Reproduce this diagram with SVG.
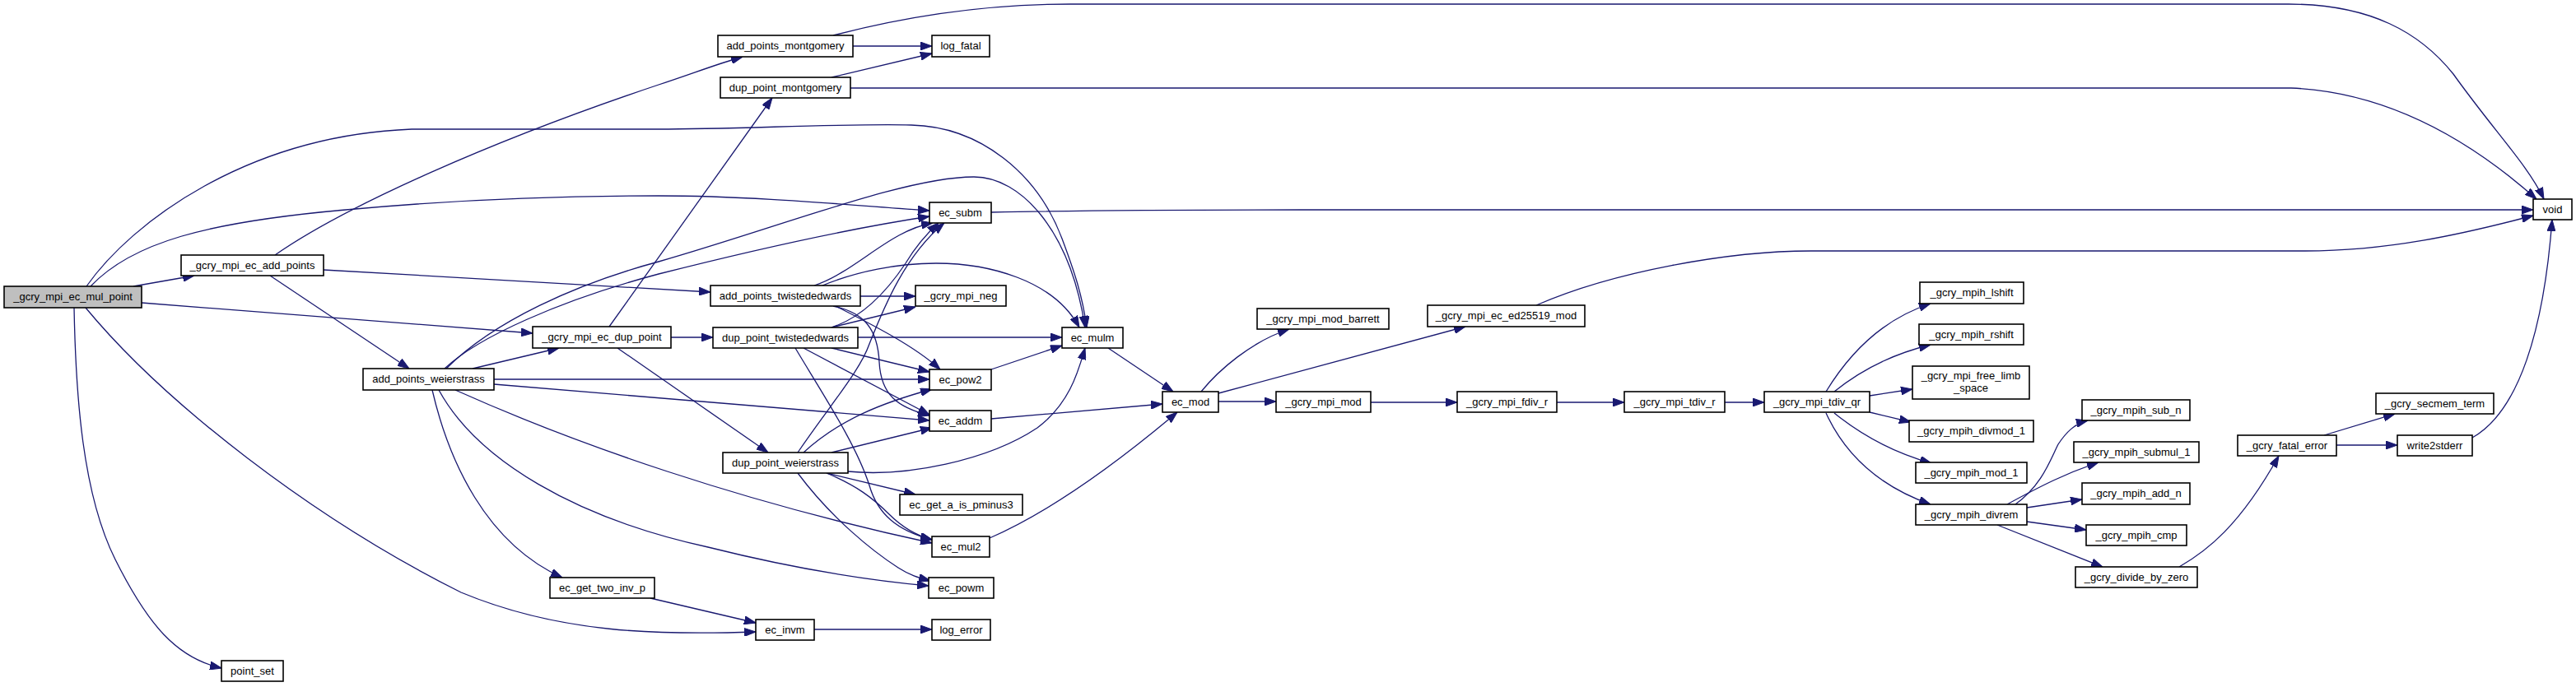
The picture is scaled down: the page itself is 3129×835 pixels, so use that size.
<svg xmlns="http://www.w3.org/2000/svg" width="3129" height="835" viewBox="0 0 3129 835">
<style>
.n rect{fill:#fff;stroke:#000;stroke-width:1.6}
.n text{font-family:"Liberation Sans",Arial,sans-serif;font-size:13px;text-anchor:middle;fill:#000}
#edges path{fill:none;stroke:#191970;stroke-width:1.3;marker-end:url(#a)}
</style>
<defs>
<marker id="a" viewBox="0 0 14 10" refX="14" refY="5" markerWidth="14" markerHeight="10" markerUnits="userSpaceOnUse" orient="auto">
<path d="M0,0 L14,5 L0,10 z" fill="#191970" stroke="#191970"/>
</marker>
</defs>
<rect width="3129" height="835" fill="#fff"/>
<g id="edges">
<path d="M162,348 L236,335"/>
<path d="M172,368 L647,405"/>
<path d="M110,348 C160,295 250,270 420,255 C560,242 700,238 800,238 C920,238 1040,250 1129,256"/>
<path d="M105,348 C160,270 300,165 500,157 L800,157 C900,157 1020,150 1107,152 C1190,154 1260,210 1290,290 C1305,330 1315,360 1320,398"/>
<path d="M90,374 C92,480 100,600 140,680 C180,760 215,800 269,812"/>
<path d="M104,374 C200,490 380,630 560,720 C680,770 800,772 918,768"/>
<path d="M334,310 C420,250 600,170 800,103 C840,90 870,78 902,69"/>
<path d="M393,328 C600,340 750,348 863,355"/>
<path d="M328,335 L497,448"/>
<path d="M740,397 L938,119"/>
<path d="M815,410 L866,410"/>
<path d="M750,423 L933,550"/>
<path d="M574,448 L679,423"/>
<path d="M542,448 C600,390 700,345 800,318 C950,275 1100,215 1183,215 C1240,215 1300,280 1318,398"/>
<path d="M540,448 C580,410 680,365 800,333 C950,295 1050,275 1129,263"/>
<path d="M600,461 L1129,461"/>
<path d="M600,467 L1129,511"/>
<path d="M553,474 C700,540 900,610 1132,660"/>
<path d="M533,474 C580,560 700,630 860,665 C960,690 1050,705 1128,712"/>
<path d="M525,474 C545,560 590,660 683,702"/>
<path d="M1036,56 L1132,56"/>
<path d="M1010,94 L1132,65"/>
<path d="M1012,43 C1100,20 1200,5 1300,5 L2780,5 C2880,5 2940,40 2980,90 C3030,160 3070,200 3090,242"/>
<path d="M1033,107 L2783,107 C2900,112 3000,170 3081,242"/>
<path d="M1204,258 C1300,256 1400,255 1580,255 L3077,255"/>
<path d="M1866,371 C1960,330 2100,305 2200,305 L2800,305 C2900,305 2990,285 3077,262"/>
<path d="M3003,532 C3060,500 3090,400 3100,267"/>
<path d="M1204,449 L1290,420"/>
<path d="M1204,509 L1412,491"/>
<path d="M1346,423 L1425,476"/>
<path d="M1202,654 C1280,620 1360,560 1430,501"/>
<path d="M1459,476 C1480,450 1520,415 1566,400"/>
<path d="M1480,478 L1780,397"/>
<path d="M1480,488 L1550,488"/>
<path d="M1665,489 L1770,489"/>
<path d="M1891,489 L1973,489"/>
<path d="M2095,489 L2143,489"/>
<path d="M2218,476 C2240,440 2280,390 2345,369"/>
<path d="M2228,476 C2260,450 2300,430 2345,419"/>
<path d="M2271,481 L2323,473"/>
<path d="M2271,501 L2321,513"/>
<path d="M2228,502 C2260,528 2300,550 2346,563"/>
<path d="M2218,502 C2240,550 2280,590 2345,613"/>
<path d="M2448,613 C2480,590 2490,560 2500,540 C2510,525 2520,515 2536,511"/>
<path d="M2438,613 C2480,590 2510,575 2549,562"/>
<path d="M2462,617 L2529,607"/>
<path d="M2462,634 L2534,644"/>
<path d="M2426,638 L2554,689"/>
<path d="M2647,689 C2680,670 2720,640 2768,554"/>
<path d="M2823,529 L2909,503"/>
<path d="M2838,541 L2912,541"/>
<path d="M1045,360 L1112,360"/>
<path d="M989,347 C1040,330 1080,280 1133,271"/>
<path d="M999,347 C1040,330 1090,320 1137,320 C1200,320 1280,340 1311,398"/>
<path d="M1015,372 C1060,395 1110,420 1142,449"/>
<path d="M1012,372 C1050,380 1066,400 1068,440 C1070,480 1090,495 1129,505"/>
<path d="M1042,410 L1290,410"/>
<path d="M1010,398 L1112,373"/>
<path d="M1010,398 C1050,385 1080,350 1100,320 C1115,295 1130,280 1140,271"/>
<path d="M1010,423 L1129,452"/>
<path d="M976,423 L1129,504"/>
<path d="M966,423 C1000,480 1040,540 1056,590 C1066,625 1090,645 1132,656"/>
<path d="M969,550 C1010,490 1045,450 1056,418 C1075,370 1100,310 1147,271"/>
<path d="M976,550 C1020,510 1070,490 1132,473"/>
<path d="M1010,550 L1132,520"/>
<path d="M1030,573 C1100,580 1200,560 1260,520 C1300,490 1310,450 1318,423"/>
<path d="M1004,575 L1112,601"/>
<path d="M1004,575 C1040,590 1060,605 1080,625 C1095,640 1110,650 1132,656"/>
<path d="M969,575 C1010,630 1060,670 1091,690 C1105,699 1115,702 1130,706"/>
<path d="M790,727 L918,757"/>
<path d="M989,765 L1132,765"/>
</g>
<g id="n1" class="n"><rect x="5" y="348" width="167" height="26" style="fill:#bfbfbf"/><text x="88.5" y="365">_gcry_mpi_ec_mul_point</text></g>
<g id="n2" class="n"><rect x="220" y="310" width="173" height="25"/><text x="306.5" y="327">_gcry_mpi_ec_add_points</text></g>
<g id="n3" class="n"><rect x="647" y="397" width="168" height="26"/><text x="731" y="414">_gcry_mpi_ec_dup_point</text></g>
<g id="n4" class="n"><rect x="441" y="448" width="159" height="26"/><text x="520.5" y="465">add_points_weierstrass</text></g>
<g id="n5" class="n"><rect x="668" y="702" width="127" height="25"/><text x="731.5" y="719">ec_get_two_inv_p</text></g>
<g id="n6" class="n"><rect x="269" y="803" width="75" height="25"/><text x="306.5" y="820">point_set</text></g>
<g id="n7" class="n"><rect x="872" y="43" width="164" height="26"/><text x="954" y="60">add_points_montgomery</text></g>
<g id="n8" class="n"><rect x="1132" y="43" width="70" height="26"/><text x="1167" y="60">log_fatal</text></g>
<g id="n9" class="n"><rect x="875" y="94" width="158" height="25"/><text x="954" y="111">dup_point_montgomery</text></g>
<g id="n10" class="n"><rect x="1129" y="246" width="75" height="25"/><text x="1166.5" y="263">ec_subm</text></g>
<g id="n11" class="n"><rect x="863" y="347" width="182" height="25"/><text x="954" y="364">add_points_twistededwards</text></g>
<g id="n12" class="n"><rect x="1112" y="347" width="110" height="25"/><text x="1167" y="364">_gcry_mpi_neg</text></g>
<g id="n13" class="n"><rect x="866" y="398" width="176" height="25"/><text x="954" y="415">dup_point_twistededwards</text></g>
<g id="n14" class="n"><rect x="1290" y="398" width="74" height="25"/><text x="1327" y="415">ec_mulm</text></g>
<g id="n15" class="n"><rect x="1129" y="449" width="75" height="25"/><text x="1166.5" y="466">ec_pow2</text></g>
<g id="n16" class="n"><rect x="1129" y="499" width="75" height="25"/><text x="1166.5" y="516">ec_addm</text></g>
<g id="n17" class="n"><rect x="1412" y="476" width="68" height="25"/><text x="1446" y="493">ec_mod</text></g>
<g id="n18" class="n"><rect x="878" y="550" width="152" height="25"/><text x="954" y="567">dup_point_weierstrass</text></g>
<g id="n19" class="n"><rect x="1093" y="601" width="149" height="25"/><text x="1167.5" y="618">ec_get_a_is_pminus3</text></g>
<g id="n20" class="n"><rect x="1132" y="652" width="70" height="25"/><text x="1167" y="669">ec_mul2</text></g>
<g id="n21" class="n"><rect x="1128" y="702" width="79" height="25"/><text x="1167.5" y="719">ec_powm</text></g>
<g id="n22" class="n"><rect x="918" y="753" width="71" height="25"/><text x="953.5" y="770">ec_invm</text></g>
<g id="n23" class="n"><rect x="1132" y="753" width="71" height="25"/><text x="1167.5" y="770">log_error</text></g>
<g id="n24" class="n"><rect x="1527" y="375" width="160" height="25"/><text x="1607" y="392">_gcry_mpi_mod_barrett</text></g>
<g id="n25" class="n"><rect x="1734" y="371" width="191" height="26"/><text x="1829.5" y="388">_gcry_mpi_ec_ed25519_mod</text></g>
<g id="n26" class="n"><rect x="1550" y="476" width="115" height="25"/><text x="1607.5" y="493">_gcry_mpi_mod</text></g>
<g id="n27" class="n"><rect x="1770" y="476" width="121" height="25"/><text x="1830.5" y="493">_gcry_mpi_fdiv_r</text></g>
<g id="n28" class="n"><rect x="1973" y="476" width="122" height="25"/><text x="2034" y="493">_gcry_mpi_tdiv_r</text></g>
<g id="n29" class="n"><rect x="2143" y="476" width="128" height="25"/><text x="2207" y="493">_gcry_mpi_tdiv_qr</text></g>
<g id="n30" class="n"><rect x="2332" y="343" width="126" height="26"/><text x="2395" y="360">_gcry_mpih_lshift</text></g>
<g id="n31" class="n"><rect x="2331" y="394" width="127" height="25"/><text x="2394.5" y="411">_gcry_mpih_rshift</text></g>
<g id="n32" class="n"><rect x="2323" y="445" width="142" height="40"/><text x="2394" y="461">_gcry_mpi_free_limb</text><text x="2394" y="476">_space</text></g>
<g id="n33" class="n"><rect x="2319" y="511" width="151" height="26"/><text x="2394.5" y="528">_gcry_mpih_divmod_1</text></g>
<g id="n34" class="n"><rect x="2327" y="562" width="135" height="25"/><text x="2394.5" y="579">_gcry_mpih_mod_1</text></g>
<g id="n35" class="n"><rect x="2327" y="613" width="135" height="25"/><text x="2394.5" y="630">_gcry_mpih_divrem</text></g>
<g id="n36" class="n"><rect x="2529" y="486" width="131" height="25"/><text x="2594.5" y="503">_gcry_mpih_sub_n</text></g>
<g id="n37" class="n"><rect x="2519" y="537" width="152" height="25"/><text x="2595" y="554">_gcry_mpih_submul_1</text></g>
<g id="n38" class="n"><rect x="2529" y="587" width="131" height="26"/><text x="2594.5" y="604">_gcry_mpih_add_n</text></g>
<g id="n39" class="n"><rect x="2534" y="638" width="122" height="25"/><text x="2595" y="655">_gcry_mpih_cmp</text></g>
<g id="n40" class="n"><rect x="2521" y="689" width="148" height="25"/><text x="2595" y="706">_gcry_divide_by_zero</text></g>
<g id="n41" class="n"><rect x="2718" y="529" width="120" height="25"/><text x="2778" y="546">_gcry_fatal_error</text></g>
<g id="n42" class="n"><rect x="2886" y="478" width="143" height="25"/><text x="2957.5" y="495">_gcry_secmem_term</text></g>
<g id="n43" class="n"><rect x="2912" y="529" width="91" height="25"/><text x="2957.5" y="546">write2stderr</text></g>
<g id="n44" class="n"><rect x="3077" y="242" width="47" height="25"/><text x="3100.5" y="259">void</text></g>
</svg>
